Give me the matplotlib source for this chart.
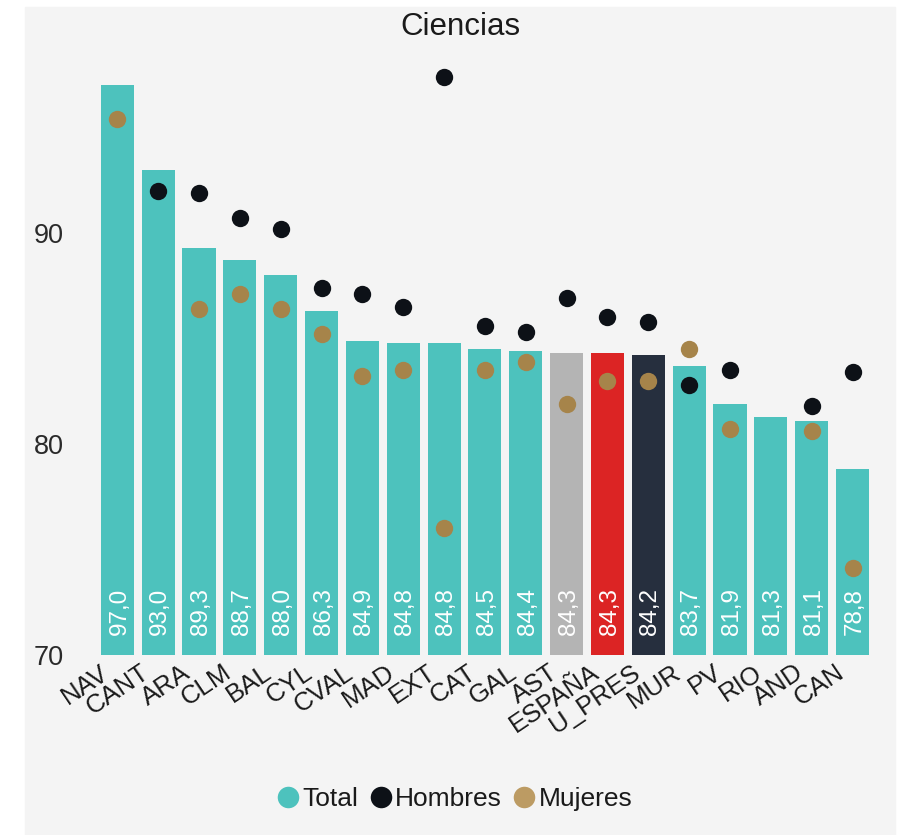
import matplotlib
matplotlib.use("Agg")
import matplotlib.pyplot as plt
import numpy as np
from matplotlib.patches import Rectangle
from matplotlib.lines import Line2D
from matplotlib.transforms import ScaledTranslation

plt.rcParams['font.family'] = ['Liberation Sans', 'DejaVu Sans']

# datos
regiones = ['NAV', 'CANT', 'ARA', 'CLM', 'BAL', 'CYL', 'CVAL', 'MAD', 'EXT', 'CAT',
            'GAL', 'AST', 'ESPAÑA', 'U_PRES', 'MUR', 'PV', 'RIO', 'AND', 'CAN']
total = [97.0, 93.0, 89.3, 88.7, 88.0, 86.3, 84.9, 84.8, 84.8, 84.5,
         84.4, 84.3, 84.3, 84.2, 83.7, 81.9, 81.3, 81.1, 78.8]
hombres = [np.nan, 92.0, 91.9, 90.7, 90.2, 87.4, 87.1, 86.5, 97.4, 85.6,
           85.3, 86.9, 86.0, 85.8, 82.8, 83.5, np.nan, 81.8, 83.4]
mujeres = [95.4, np.nan, 86.4, 87.1, 86.4, 85.2, 83.2, 83.5, 76.0, 83.5,
           83.9, 81.9, 83.0, 83.0, 84.5, 80.7, np.nan, 80.6, 74.1]

TEAL = '#4dc2bd'
colores_especiales = {'AST': '#b4b4b4', 'ESPAÑA': '#dc2424', 'U_PRES': '#262f3e'}
colores = [colores_especiales.get(r, TEAL) for r in regiones]

fig = plt.figure(figsize=(9.07, 8.35), dpi=100, facecolor='white')
# panel gris de fondo
fig.patches.append(Rectangle((25/907, 0), (895-25)/907, (835-7)/835,
                             transform=fig.transFigure, color='#f4f4f4', zorder=-10))

ax = fig.add_axes([75/907, 180/835, (893-75)/907, (655-43)/835])
ax.set_facecolor('#f4f4f4')
x = np.arange(len(regiones))

ax.bar(x, total, width=0.81, color=colores, zorder=2)
ax.plot(x, hombres, 'o', color='#0d1117', ms=12.5, mew=0, zorder=3)
ax.plot(x, mujeres, 'o', color='#a6844a', ms=12.5, mew=0, zorder=3)

for i, v in enumerate(total):
    ax.annotate(f"{v:.1f}".replace('.', ','), (i, 70), xytext=(1.5, 14.4),
                textcoords='offset points', rotation=90, ha='center', va='bottom',
                color='white', fontsize=17.5, zorder=4)

ax.set_xlim(-1.036, 18.99)
ax.set_ylim(70, 99)
ax.set_yticks([70, 80, 90])
ax.tick_params(axis='y', length=0, pad=8, labelsize=19.5, labelcolor='#2a2a2a')
ax.set_xticks(x)
ax.set_xticklabels(regiones)
ax.tick_params(axis='x', length=0, pad=11, labelsize=18.5, labelcolor='#1a1a1a')
off = ScaledTranslation(-11/100, 0, fig.dpi_scale_trans)
for lbl in ax.get_xticklabels():
    lbl.set_rotation(34)
    lbl.set_ha('right')
    lbl.set_va('center')
    lbl.set_rotation_mode('anchor')
    lbl.set_transform(lbl.get_transform() + off)
for s in ax.spines.values():
    s.set_visible(False)

fig.text(460/907, 1 - 35/835, 'Ciencias', ha='center', va='baseline',
         fontsize=22.5, color='#1a1a1a')

handles = [Line2D([], [], marker='o', ls='', color=TEAL, ms=15.5, mew=0),
           Line2D([], [], marker='o', ls='', color='#0d1117', ms=15.5, mew=0),
           Line2D([], [], marker='o', ls='', color='#bc9b63', ms=15.5, mew=0)]
fig.legend(handles, ['Total', 'Hombres', 'Mujeres'], loc='center',
           bbox_to_anchor=(455/907, 1 - 799/835), ncol=3, frameon=False,
           fontsize=19, handlelength=0.8, handletextpad=0.15, columnspacing=0.45,
           labelcolor='#1a1a1a')

fig.savefig('out.png', dpi=100)
